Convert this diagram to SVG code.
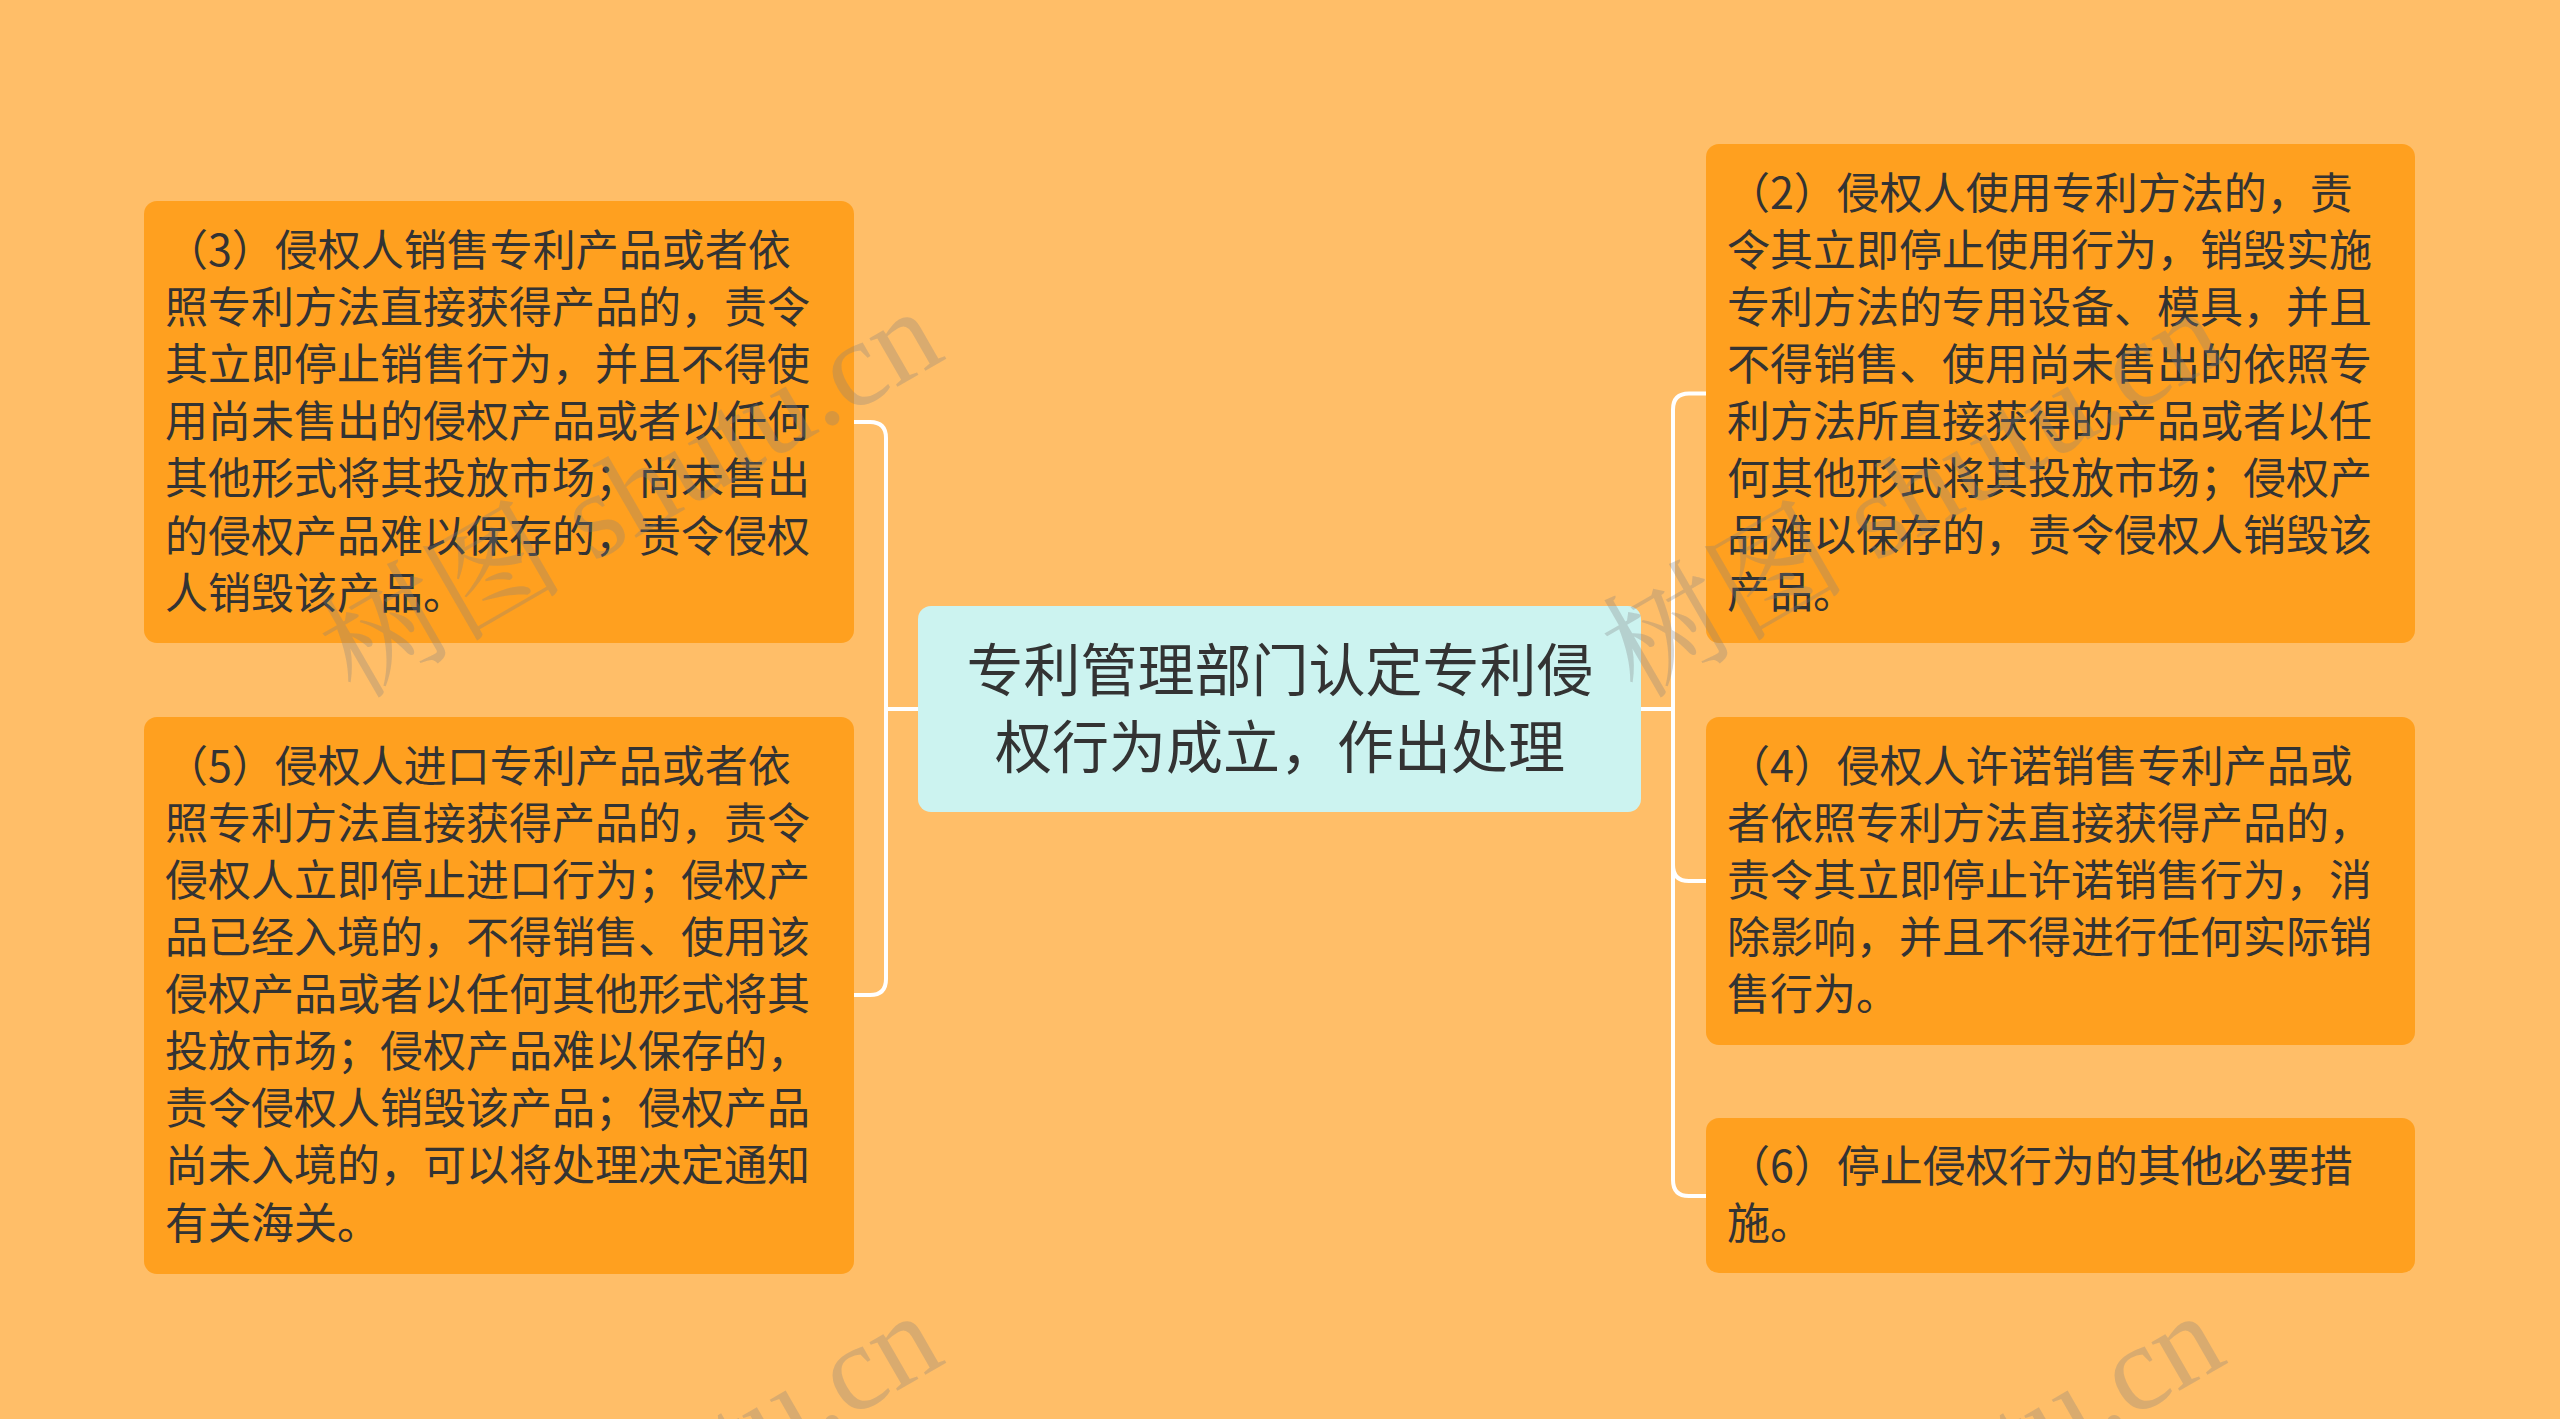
<svg xmlns="http://www.w3.org/2000/svg" width="2560" height="1419" viewBox="0 0 2560 1419">
<style>
.bg{fill:#FFBE68}
.box{fill:#FFA01F}
.root{fill:#CCF3F0}
.t{font-family:"Noto Sans CJK SC","Microsoft YaHei",sans-serif;font-size:43px;fill:#333333}
.rt{font-family:"Noto Sans CJK SC","Microsoft YaHei",sans-serif;font-size:57px;fill:#333333;text-anchor:middle}
.ln{fill:none;stroke:#FFFFFF;stroke-width:4;stroke-linecap:round;stroke-linejoin:round}
.wm{font-family:"Liberation Serif","Noto Serif CJK SC","Noto Sans CJK SC",serif;font-size:122px;fill:#808080;fill-opacity:0.3}
</style>
<rect class="bg" x="0" y="0" width="2560" height="1419"/>
<g id="connectors">
<path class="ln" d="M918,709 H886"/>
<path class="ln" d="M854,422 H870 Q886,422 886,438 V979 Q886,995 870,995 H854"/>
<path class="ln" d="M1641,709 H1673"/>
<path class="ln" d="M1706,393.5 H1689 Q1673,393.5 1673,409.5 V1180 Q1673,1196 1689,1196 H1706"/>
<path class="ln" d="M1673,865 Q1673,881 1689,881 H1706"/>
</g>
<g id="root">
<rect class="root" x="918" y="606" width="723" height="206" rx="13"/>
<text class="rt"><tspan x="1280" y="690.7">专利管理部门认定专利侵</tspan><tspan x="1280" y="767.7">权行为成立，作出处理</tspan></text>
</g>
<g id="n3">
<rect class="box" x="144" y="201" width="710" height="442" rx="13"/>
<text class="t"><tspan x="165" y="266">（3）侵权人销售专利产品或者依</tspan><tspan x="165" y="323.1">照专利方法直接获得产品的，责令</tspan><tspan x="165" y="380.2">其立即停止销售行为，并且不得使</tspan><tspan x="165" y="437.3">用尚未售出的侵权产品或者以任何</tspan><tspan x="165" y="494.4">其他形式将其投放市场；尚未售出</tspan><tspan x="165" y="551.5">的侵权产品难以保存的，责令侵权</tspan><tspan x="165" y="608.6">人销毁该产品。</tspan></text>
</g>
<g id="n5">
<rect class="box" x="144" y="717" width="710" height="557" rx="13"/>
<text class="t"><tspan x="165" y="781.7">（5）侵权人进口专利产品或者依</tspan><tspan x="165" y="838.8">照专利方法直接获得产品的，责令</tspan><tspan x="165" y="895.9">侵权人立即停止进口行为；侵权产</tspan><tspan x="165" y="953">品已经入境的，不得销售、使用该</tspan><tspan x="165" y="1010.1">侵权产品或者以任何其他形式将其</tspan><tspan x="165" y="1067.2">投放市场；侵权产品难以保存的，</tspan><tspan x="165" y="1124.3">责令侵权人销毁该产品；侵权产品</tspan><tspan x="165" y="1181.4">尚未入境的，可以将处理决定通知</tspan><tspan x="165" y="1238.5">有关海关。</tspan></text>
</g>
<g id="n2">
<rect class="box" x="1706" y="144" width="709" height="499" rx="13"/>
<text class="t"><tspan x="1727" y="208.7">（2）侵权人使用专利方法的，责</tspan><tspan x="1727" y="265.8">令其立即停止使用行为，销毁实施</tspan><tspan x="1727" y="322.9">专利方法的专用设备、模具，并且</tspan><tspan x="1727" y="380">不得销售、使用尚未售出的依照专</tspan><tspan x="1727" y="437.1">利方法所直接获得的产品或者以任</tspan><tspan x="1727" y="494.2">何其他形式将其投放市场；侵权产</tspan><tspan x="1727" y="551.3">品难以保存的，责令侵权人销毁该</tspan><tspan x="1727" y="608.4">产品。</tspan></text>
</g>
<g id="n4">
<rect class="box" x="1706" y="717" width="709" height="328" rx="13"/>
<text class="t"><tspan x="1727" y="781.7">（4）侵权人许诺销售专利产品或</tspan><tspan x="1727" y="838.8">者依照专利方法直接获得产品的，</tspan><tspan x="1727" y="895.9">责令其立即停止许诺销售行为，消</tspan><tspan x="1727" y="953">除影响，并且不得进行任何实际销</tspan><tspan x="1727" y="1010.1">售行为。</tspan></text>
</g>
<g id="n6">
<rect class="box" x="1706" y="1118" width="709" height="155" rx="13"/>
<text class="t"><tspan x="1727" y="1181.7">（6）停止侵权行为的其他必要措</tspan><tspan x="1727" y="1238.8">施。</tspan></text>
</g>
<g id="watermarks">
<text class="wm" transform="translate(355,700) rotate(-30)">树图 shutu.cn</text>
<text class="wm" transform="translate(1637,700) rotate(-30)">树图 shutu.cn</text>
<text class="wm" transform="translate(355,1704) rotate(-30)">树图 shutu.cn</text>
<text class="wm" transform="translate(1637,1704) rotate(-30)">树图 shutu.cn</text>
</g>
</svg>
